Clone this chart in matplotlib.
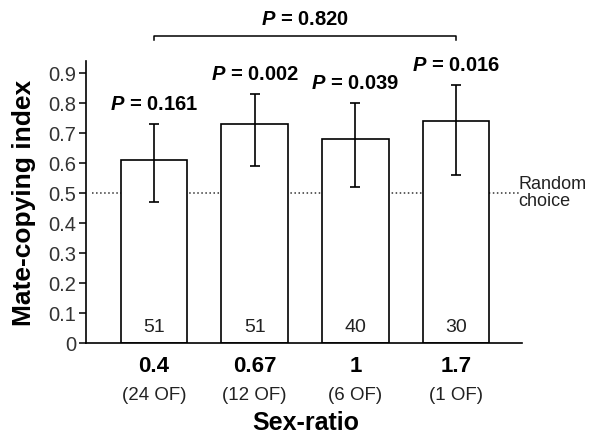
import matplotlib.pyplot as plt
import matplotlib.transforms as mtransforms

plt.rcParams['font.family'] = ['Liberation Sans', 'DejaVu Sans']
plt.rcParams['mathtext.fontset'] = 'custom'
plt.rcParams['mathtext.it'] = 'Liberation Sans:italic:bold'

ratios = ['0.4', '0.67', '1', '1.7']
females = ['(24 OF)', '(12 OF)', '(6 OF)', '(1 OF)']
index = [0.61, 0.73, 0.68, 0.74]
err_low = [0.47, 0.59, 0.52, 0.56]
err_high = [0.73, 0.83, 0.80, 0.86]
n_trials = [51, 51, 40, 30]
p_values = ['0.161', '0.002', '0.039', '0.016']
p_overall = '0.820'

x = list(range(len(ratios)))
yerr = [[v - lo for v, lo in zip(index, err_low)],
        [hi - v for v, hi in zip(index, err_high)]]

fig = plt.figure(figsize=(5.9, 4.37), dpi=100)
ax = fig.add_axes([0.1458, 0.2151, 0.739, 0.7551])

# random choice line behind the bars
ax.plot([-0.62, 3.64], [0.5, 0.5], ls=':', color='#333333', lw=1.1, zorder=1)

ax.bar(x, index, width=0.66, color='white', edgecolor='black', lw=1.2, zorder=2)
ax.errorbar(x, index, yerr=yerr, fmt='none', ecolor='black', elinewidth=1.2,
            capsize=3.8, capthick=1.2, zorder=3)

for xi, hi, p in zip(x, err_high, p_values):
    ax.text(xi, hi + 0.065, '$P$ = ' + p, ha='center', va='center',
            fontsize=14.5, fontweight='bold')

for xi, n in zip(x, n_trials):
    ax.text(xi, 0.053, str(n), ha='center', va='center', fontsize=14,
            color='#222222')

# overall comparison bracket
ax.plot([0, 0, 3, 3], [1.01, 1.022, 1.022, 1.01], color='black', lw=1.1,
        clip_on=False)
ax.text(1.5, 1.077, '$P$ = ' + p_overall, ha='center', va='center',
        fontsize=14.5, fontweight='bold', clip_on=False)

ax.text(3.615, 0.5, 'Random\nchoice', ha='left', va='center', fontsize=13,
        linespacing=1.05, color='#222222')

# category labels
trans = mtransforms.blended_transform_factory(ax.transData, fig.transFigure)
for xi, r, f in zip(x, ratios, females):
    ax.text(xi, 1 - 367 / 437, r, transform=trans, ha='center', va='center',
            fontsize=16, fontweight='bold')
    ax.text(xi, 1 - 395 / 437, f, transform=trans, ha='center', va='center',
            fontsize=13.5, color='#222222')
fig.text(306 / 590, 1 - 423 / 437, 'Sex-ratio', ha='center', va='center',
         fontsize=18, fontweight='bold')
fig.text(24 / 590, 1 - 203 / 437, 'Mate-copying index', ha='center',
         va='center', rotation=90, fontsize=19, fontweight='bold')

ax.set_xlim(-0.675, 3.655)
ax.set_ylim(0, 1.1)
ax.set_xticks([])
ax.set_yticks([i / 10 for i in range(10)])
ax.set_yticklabels(['0'] + ['%.1f' % (i / 10) for i in range(1, 10)])
ax.tick_params(axis='y', labelsize=14.5, length=5, width=1.1, pad=2,
               colors='black', labelcolor='#333333')
ax.spines['top'].set_visible(False)
ax.spines['right'].set_visible(False)
ax.spines['left'].set_bounds(0, 0.94)
ax.spines['left'].set_linewidth(1.2)
ax.spines['bottom'].set_linewidth(1.2)
ax.patch.set_visible(False)

plt.savefig('out.png', dpi=100)
